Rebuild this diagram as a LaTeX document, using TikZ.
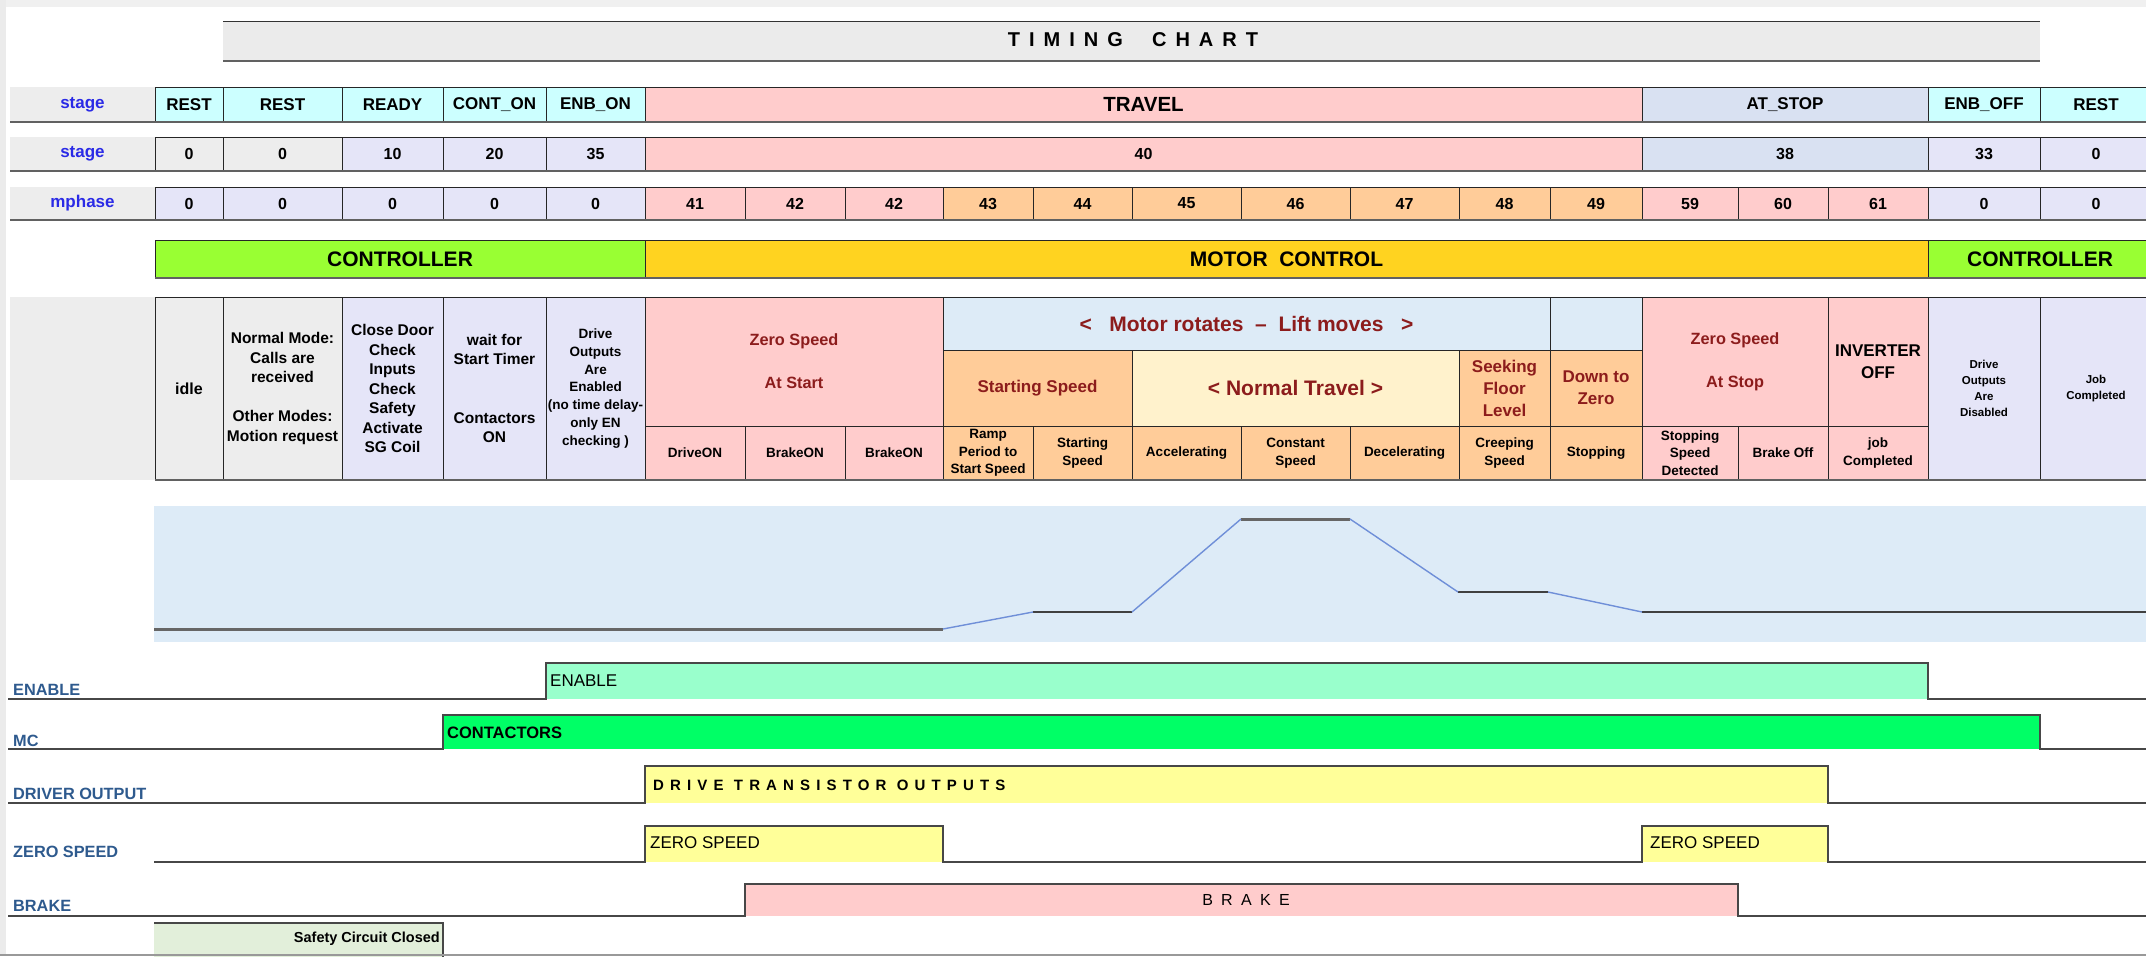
\documentclass[tikz,border=0pt]{standalone}
\usepackage{fontspec}
\setmainfont{Liberation Sans}
\newfontfamily\spT[LetterSpace=45]{Liberation Sans}
\newfontfamily\spD[LetterSpace=41]{Liberation Sans}
\newfontfamily\spB[LetterSpace=52]{Liberation Sans}
\definecolor{lbl}{HTML}{EDEDED}
\definecolor{cy}{HTML}{CCFFFF}
\definecolor{lav}{HTML}{E5E5F8}
\definecolor{pk}{HTML}{FFCCCC}
\definecolor{ats}{HTML}{D9E1F2}
\definecolor{org}{HTML}{FFCC99}
\definecolor{crm}{HTML}{FFF2CC}
\definecolor{lbl2}{HTML}{DDEBF7}
\definecolor{grn}{HTML}{99FF33}
\definecolor{gld}{HTML}{FFD320}
\definecolor{mint}{HTML}{99FFCC}
\definecolor{bgrn}{HTML}{00FF66}
\definecolor{yel}{HTML}{FFFF99}
\definecolor{sfg}{HTML}{E2EFDA}
\definecolor{dred}{HTML}{8C1C1C}
\definecolor{lblue}{HTML}{2A2AE6}
\definecolor{sig}{HTML}{2E5A8E}
\definecolor{ramp}{HTML}{6F8FD8}
\newcommand\cellbox[7][]{%
  \pgfmathsetmacro\cellw{#5-#3}%
  \pgfmathsetmacro\cellh{#6-#4}%
  \node[cell,minimum width=\cellw pt,minimum height=\cellh pt,anchor=north west,#1] (#2) at (#3,#4) {#7};}
\begin{document}
\begin{tikzpicture}[x=1pt,y=-1pt,
  cell/.style={draw=black!85,line width=0.9pt,inner sep=0pt,outer sep=0pt,align=center},
  fa/.style={font=\bfseries\fontsize{17}{20}\selectfont},
  fT/.style={font=\bfseries\fontsize{20.5}{24}\selectfont},
  fn/.style={font=\bfseries\fontsize{16}{19}\selectfont},
  fd/.style={font=\bfseries\fontsize{15.5}{19.5}\selectfont},
  fs/.style={font=\bfseries\fontsize{13.5}{17.6}\selectfont},
  fe/.style={font=\bfseries\fontsize{13.5}{17.8}\selectfont},
  fx/.style={font=\bfseries\fontsize{11.5}{16}\selectfont},
  fr/.style={font=\bfseries\fontsize{16.3}{19}\selectfont,text=dred},
  fb/.style={font=\bfseries\fontsize{21}{24}\selectfont},
  fm/.style={font=\bfseries\fontsize{17}{22}\selectfont,text=dred},
  fk/.style={font=\bfseries\fontsize{17}{22}\selectfont},
  fL/.style={font=\bfseries\fontsize{21}{24}\selectfont,text=dred},
  lb/.style={font=\bfseries\fontsize{17}{20}\selectfont,text=lblue,draw=none},
  rowline/.style={line width=2.6pt,draw=black!62},
  sigline/.style={line width=1.8pt,draw=black!72},
  siglab/.style={font=\bfseries\fontsize{16.3}{19}\selectfont,text=sig,inner sep=0pt,anchor=base west},
  boxtxt/.style={inner sep=0pt,anchor=west},
  flat/.style={line width=2.2pt,draw=black!75},
  rampl/.style={line width=1.4pt,draw=ramp}]
\useasboundingbox (0,0) rectangle (2146,956);
\fill[white] (0,0) rectangle (2146,956);
\fill[black!6] (0,0) rectangle (2146,7);
\fill[black!8] (0,0) rectangle (6,956);
% title
\fill[black!8] (223,21) rectangle (2040,61);
\draw[line width=1pt,black!80] (223,21) -- (2040,21);
\draw[rowline] (223,61) -- (2040,61);
\node[font=\bfseries\fontsize{20}{24}\selectfont\spT] (title) at (1133,40) {TIMING\ \ CHART};
% row 1 stage names
\cellbox[fill=lbl,lb]{r1l}{10}{87}{155}{122}{stage}
\foreach \nm/\xa/\xb/\cl/\tx in {a/155/223/cy/REST,b/223/342/cy/REST,c/342/443/cy/READY,d/443/546/cy/CONT\_ON,e/546/645/cy/ENB\_ON,g/1642/1928/ats/AT\_STOP,h/1928/2040/cy/ENB\_OFF,i/2040/2152/cy/REST}
  {\cellbox[fill=\cl,fa]{r1\nm}{\xa}{87}{\xb}{122}{\tx}}
\cellbox[fill=pk,fT]{r1f}{645}{87}{1642}{122}{TRAVEL}
\draw[rowline] (10,122) -- (2146,122);
% row 2 stage numbers
\cellbox[fill=lbl,lb]{r2l}{10}{137}{155}{171}{stage}
\foreach \nm/\xa/\xb/\cl/\tx in {a/155/223/lbl/0,b/223/342/lbl/0,c/342/443/lav/10,d/443/546/lav/20,e/546/645/lav/35,f/645/1642/pk/40,g/1642/1928/ats/38,h/1928/2040/lav/33,i/2040/2152/lav/0}
  {\cellbox[fill=\cl,fn]{r2\nm}{\xa}{137}{\xb}{171}{\tx}}
\draw[rowline] (10,171) -- (2146,171);
% row 3 mphase
\cellbox[fill=lbl,lb]{r3l}{10}{187}{155}{220}{mphase}
\foreach \nm/\xa/\xb/\cl/\tx in {a/155/223/lav/0,b/223/342/lav/0,c/342/443/lav/0,d/443/546/lav/0,e/546/645/lav/0,f/645/745/pk/41,g/745/845/pk/42,h/845/943/pk/42,i/943/1033/org/43,j/1033/1132/org/44,k/1132/1241/org/45,l/1241/1350/org/46,m/1350/1459/org/47,n/1459/1550/org/48,o/1550/1642/org/49,p/1642/1738/pk/59,q/1738/1828/pk/60,r/1828/1928/pk/61,s/1928/2040/lav/0,t/2040/2152/lav/0}
  {\cellbox[fill=\cl,fn]{r3\nm}{\xa}{187}{\xb}{220}{\tx}}
\draw[rowline] (10,220) -- (2146,220);
% controller band
\cellbox[fill=grn,fb]{cb1}{155}{240}{645}{278}{CONTROLLER}
\cellbox[fill=gld,fb]{cb2}{645}{240}{1928}{278}{MOTOR\ \ CONTROL}
\cellbox[fill=grn,fb]{cb3}{1928}{240}{2152}{278}{CONTROLLER}
\draw[rowline] (155,278) -- (2146,278);
% description block
\fill[lbl] (10,297) rectangle (155,480);
\cellbox[fill=lbl,fn]{d1}{155}{297}{223}{480}{idle}
\cellbox[fill=lbl,fd]{d2}{223}{297}{342}{480}{Normal Mode:\\Calls are\\received\\[19.5pt]Other Modes:\\Motion request}
\cellbox[fill=lav,fd]{d3}{342}{297}{443}{480}{Close Door\\Check\\Inputs\\Check\\Safety\\Activate\\SG Coil}
\cellbox[fill=lav,fd]{d4}{443}{297}{546}{480}{wait for\\Start Timer\\[39pt]Contactors\\ON}
\cellbox[fill=lav,fe]{d5}{546}{297}{645}{480}{Drive\\Outputs\\Are\\Enabled\\(no time delay-\\only EN\\checking )}
\cellbox[fill=pk,fr]{d6}{645}{297}{943}{426}{Zero Speed\\[24pt]At Start}
\cellbox[fill=pk,fs]{d6a}{645}{426}{745}{480}{DriveON}
\cellbox[fill=pk,fs]{d6b}{745}{426}{845}{480}{BrakeON}
\cellbox[fill=pk,fs]{d6c}{845}{426}{943}{480}{BrakeON}
\cellbox[fill=lbl2,fL]{d7}{943}{297}{1550}{350}{<\ \ \ Motor rotates\ \ –\ \ Lift moves\ \ \ >}
\cellbox[fill=lbl2]{d7b}{1550}{297}{1642}{350}{}
\cellbox[fill=org,fm]{d8}{943}{350}{1132}{426}{Starting Speed}
\cellbox[fill=crm,fL]{d9}{1132}{350}{1459}{426}{< Normal Travel >}
\cellbox[fill=org,fm]{d10}{1459}{350}{1550}{426}{Seeking\\Floor\\Level}
\cellbox[fill=org,fm]{d11}{1550}{350}{1642}{426}{Down to\\Zero}
\foreach \nm/\xa/\xb/\tx in {a/943/1033/{Ramp\\Period to\\Start Speed},b/1033/1132/{Starting\\Speed},c/1132/1241/Accelerating,d/1241/1350/{Constant\\Speed},e/1350/1459/Decelerating,f/1459/1550/{Creeping\\Speed},g/1550/1642/Stopping}
  {\cellbox[fill=org,fs]{dl\nm}{\xa}{426}{\xb}{480}{\tx}}
\cellbox[fill=pk,fr]{d12}{1642}{297}{1828}{426}{Zero Speed\\[24pt]At Stop}
\cellbox[fill=pk,fs]{d12a}{1642}{426}{1738}{480}{Stopping\\Speed\\Detected}
\cellbox[fill=pk,fs]{d12b}{1738}{426}{1828}{480}{Brake Off}
\cellbox[fill=pk,fk]{d13}{1828}{297}{1928}{426}{INVERTER\\OFF}
\cellbox[fill=pk,fs]{d13a}{1828}{426}{1928}{480}{job\\Completed}
\cellbox[fill=lav,fx]{d14}{1928}{297}{2040}{480}{Drive\\Outputs\\Are\\Disabled}
\cellbox[fill=lav,fx]{d15}{2040}{297}{2152}{480}{Job\\Completed}
\draw[rowline] (155,480) -- (2146,480);
% speed profile
\fill[lbl2] (154,506) rectangle (2146,642);
\coordinate (v0) at (154,629);
\coordinate (v1) at (943,629);
\coordinate (v2) at (1033,612);
\coordinate (v3) at (1132,612);
\coordinate (v4) at (1241,519);
\coordinate (v5) at (1350,519);
\coordinate (v6) at (1458,592);
\coordinate (v7) at (1548,592);
\coordinate (v8) at (1642,612);
\coordinate (v9) at (2146,612);
\draw[flat,line width=3pt,draw=black!60] (v0) -- (v1);
\draw[flat] (v2) -- (v3);
\draw[flat,line width=3pt,draw=black!60] (v4) -- (v5);
\draw[flat] (v6) -- (v7);
\draw[flat] (v8) -- (v9);
\draw[rampl] (v1) -- (v2);
\draw[rampl] (v3) -- (v4);
\draw[rampl] (v5) -- (v6);
\draw[rampl] (v7) -- (v8);
% ENABLE
\fill[mint] (546,663) rectangle (1928,699);
\draw[sigline] (8,699) -- (546,699) -- (546,663) -- (1928,663) -- (1928,699) -- (2146,699);
\node[siglab] (lEN) at (13,695) {ENABLE};
\node[boxtxt,font=\fontsize{17}{20}\selectfont] (tEN) at (550,681) {ENABLE};
% MC
\fill[bgrn] (443,715) rectangle (2040,749);
\draw[sigline] (8,749) -- (443,749) -- (443,715) -- (2040,715) -- (2040,749) -- (2146,749);
\node[siglab] (lMC) at (13,746) {MC};
\node[boxtxt,font=\bfseries\fontsize{16.5}{20}\selectfont] (tMC) at (447,733) {CONTACTORS};
% DRIVER OUTPUT
\fill[yel] (645,766) rectangle (1828,803);
\draw[sigline] (8,803) -- (645,803) -- (645,766) -- (1828,766) -- (1828,803) -- (2146,803);
\node[siglab] (lDO) at (13,799) {DRIVER OUTPUT};
\node[boxtxt,font=\bfseries\fontsize{15}{18}\selectfont\spD] (tDO) at (653,785) {DRIVE TRANSISTOR OUTPUTS};
% ZERO SPEED
\fill[yel] (645,826) rectangle (943,862);
\fill[yel] (1642,826) rectangle (1828,862);
\draw[sigline] (154,862) -- (645,862) -- (645,826) -- (943,826) -- (943,862) -- (1642,862) -- (1642,826) -- (1828,826) -- (1828,862) -- (2146,862);
\node[siglab] (lZS) at (13,857) {ZERO SPEED};
\node[boxtxt,font=\fontsize{17}{20}\selectfont] (tZS1) at (650,843) {ZERO SPEED};
\node[boxtxt,font=\fontsize{17}{20}\selectfont] (tZS2) at (1650,843) {ZERO SPEED};
% BRAKE
\fill[pk] (745,884) rectangle (1738,916);
\draw[sigline] (8,916) -- (745,916) -- (745,884) -- (1738,884) -- (1738,916) -- (2146,916);
\node[siglab] (lBR) at (13,911) {BRAKE};
\node[inner sep=0pt,font=\fontsize{16}{19}\selectfont\spB] (tBR) at (1246,900) {BRAKE};
% safety circuit
\fill[sfg] (154,923) rectangle (443,960);
\draw[sigline,line width=1.4pt] (154,923) -- (443,923) -- (443,960);
\node[inner sep=0pt,anchor=east,font=\bfseries\fontsize{14.5}{17}\selectfont] (tSC) at (440,939) {Safety Circuit Closed};
\draw[line width=1.5pt,black!40] (0,955) -- (2146,955);
\end{tikzpicture}
\end{document}
